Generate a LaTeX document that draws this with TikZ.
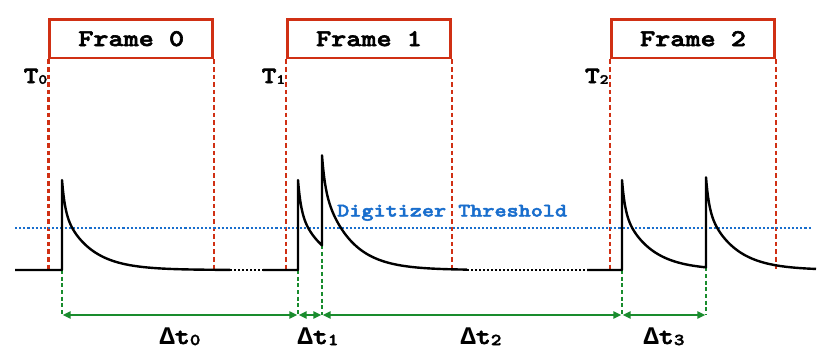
\documentclass[tikz,border=0pt]{standalone}
\usepackage{fontspec}
\setmonofont{Liberation Mono}
\newfontfamily\cour{lmmonolt10-bold}[Extension=.otf, FakeStretch=1.2, FakeBold=2.5]
\usetikzlibrary{arrows.meta}
\definecolor{fred}{RGB}{208,48,20}
\definecolor{tblue}{RGB}{25,110,205}
\definecolor{dgreen}{RGB}{25,140,45}
\newcommand{\tsubx}[1]{\raisebox{-0.6pt}{\fontsize{10.5}{10.5}\selectfont #1}}
\newcommand{\dsubx}[1]{\raisebox{-0.8pt}{\fontsize{12.5}{12.5}\selectfont #1}}
\newcommand{\dlt}{{\ttfamily\bfseries\fontsize{19}{19}\selectfont Δ}}
\begin{document}
\begin{tikzpicture}[x=0.75pt,y=-0.75pt,
 framebox/.style={draw=fred, line width=2pt, minimum width=122.4pt, minimum height=29pt, inner sep=0pt, font=\cour\fontsize{18}{18}\selectfont},
 rdash/.style={draw=fred, line width=2pt, dash pattern=on 3.5pt off 2.2pt},
 thr/.style={draw=tblue, line width=1.9pt, dash pattern=on 1.6pt off 1.5pt},
 sig/.style={draw=black, line width=1.8pt, line join=round},
 gapline/.style={draw=black, line width=1.4pt, dash pattern=on 1.5pt off 1.5pt},
 gdash/.style={draw=dgreen, line width=1.7pt, dash pattern=on 3pt off 2pt},
 garrow/.style={draw=dgreen, line width=1.3pt, {Triangle[length=6pt,width=5.5pt]}-{Triangle[length=6pt,width=5.5pt]}, shorten <=0.5pt, shorten >=0.5pt},
 tlab/.style={font=\cour\fontsize{17.5}{17.5}\selectfont, inner sep=0pt, anchor=base east},
 dlab/.style={font=\cour\fontsize{18}{18}\selectfont, inner sep=0pt, anchor=base},
 declare function={f(\z)=60*exp(-\z/27)+30*exp(-min(\z,30)/3);}
]
\useasboundingbox (0,0) rectangle (830,358);

% frames
\node[framebox] (f0) at (131.2,38.7) {Frame 0};
\node[framebox] (f1) at (369,38.7) {Frame 1};
\node[framebox] (f2) at (693,38.7) {Frame 2};

% key coordinates
\coordinate (b0) at (15,270);
\coordinate (p0) at (62,270);
\coordinate (p1) at (298,270);
\coordinate (k2) at (322,{270-f(24)});
\coordinate (p3) at (622,270);
\coordinate (k4) at (706,{270-f(84)});
\coordinate (g0a) at (230,270);
\coordinate (g0b) at (263,270);
\coordinate (g1a) at (467,270);
\coordinate (g1b) at (587,270);
\coordinate (a0) at (62,315);
\coordinate (a1) at (298,315);
\coordinate (a2) at (322,315);
\coordinate (a3) at (622,315);
\coordinate (a4) at (706,315);
\coordinate (th0) at (15,228);
\coordinate (th1) at (812,228);

% red frame edges
\foreach \f in {f0,f1,f2}{
  \draw[rdash] (\f.south west) -- (\f.south west |- b0);
  \draw[rdash] (\f.south east) -- (\f.south east |- b0);
}

% T labels
\node[tlab] (t0) at (47.5,83) {T\tsubx{0}};
\node[tlab] (t1) at (285.5,83) {T\tsubx{1}};
\node[tlab] (t2) at (608.8,83) {T\tsubx{2}};

% threshold
\draw[thr] (th0) -- (th1);
\node[font=\cour\fontsize{14.4}{14.4}\selectfont, text=tblue, inner sep=0pt, anchor=base west] (thl) at (337,216.5) {Digitizer Threshold};

% green markers
\draw[gdash] (p0) -- (a0);
\draw[gdash] (p1) -- (a1);
\draw[gdash] (k2) -- (a2);
\draw[gdash] (p3) -- (a3);
\draw[gdash] (k4) -- (a4);
\draw[garrow] (a0) -- (a1);
\draw[garrow] (a1) -- (a2);
\draw[garrow] (a2) -- (a3);
\draw[garrow] (a3) -- (a4);

% signal
\draw[sig] (b0) -- (p0) -- plot[domain=62:230,samples=220] (\x,{270-f(\x-62)});
\draw[gapline] (g0a) -- (g0b);
\draw[sig] (g0b) -- (p1) -- plot[domain=298:322,samples=50] (\x,{270-f(\x-298)})
  -- plot[domain=322:467,samples=200] (\x,{270-f(\x-298)-f(\x-322)});
\draw[gapline] (g1a) -- (g1b);
\draw[sig] (g1b) -- (p3) -- plot[domain=622:706,samples=140] (\x,{270-f(\x-622)})
  -- plot[domain=706:816,samples=160] (\x,{270-f(\x-622)-f(\x-706)});

% delta labels
\node[dlab] (d0) at (180,344) {\dlt t\dsubx{0}};
\node[dlab] (d1) at (318,344) {\dlt t\dsubx{1}};
\node[dlab] (d2) at (481,344) {\dlt t\dsubx{2}};
\node[dlab] (d3) at (664,344) {\dlt t\dsubx{3}};
\end{tikzpicture}
\end{document}
